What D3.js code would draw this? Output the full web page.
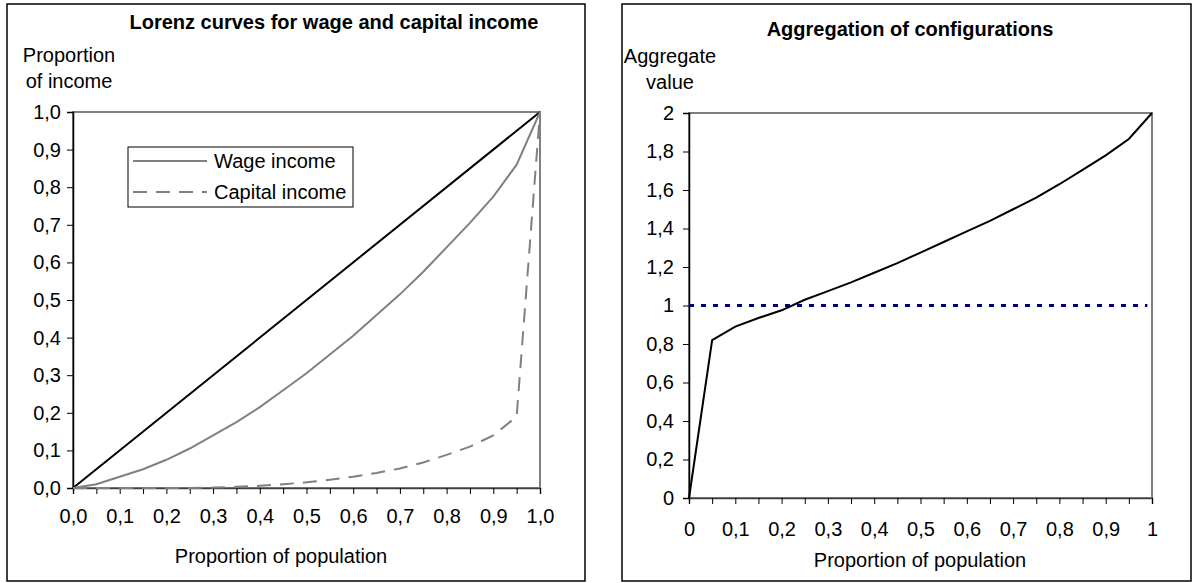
<!DOCTYPE html>
<html>
<head>
<meta charset="utf-8">
<script src="https://cdn.jsdelivr.net/npm/d3@7"></script>
<style>
  body { margin: 0; background: #fff; }
  svg { display: block; font-family: "Liberation Sans", Arial, sans-serif; }
</style>
</head>
<body>
<div id="chart"></div>
<script>
// population share, shared by both panels
const popShare = [0, 0.05, 0.1, 0.15, 0.2, 0.25, 0.3, 0.35, 0.4, 0.45, 0.5,
                  0.55, 0.6, 0.65, 0.7, 0.75, 0.8, 0.85, 0.9, 0.95, 1];

// left panel: Lorenz curves
const equality = [0, 1];
const wageIncome = [0, 0.01, 0.03, 0.05, 0.075, 0.105, 0.14, 0.175, 0.215, 0.26, 0.305,
                    0.355, 0.405, 0.46, 0.515, 0.575, 0.64, 0.705, 0.775, 0.86, 1];
const capitalIncome = [0, 0, 0, 0, 0, 0, 0.001, 0.003, 0.006, 0.01, 0.015,
                       0.022, 0.03, 0.04, 0.052, 0.068, 0.088, 0.11, 0.14, 0.19, 1];

// right panel: aggregation
const aggregate = [0, 0.82, 0.89, 0.935, 0.975, 1.03, 1.075, 1.12, 1.17, 1.22, 1.275,
                   1.33, 1.385, 1.44, 1.5, 1.56, 1.63, 1.705, 1.78, 1.865, 2];
const reference = 1;

const xTicks = d3.range(0, 21).map(i => i / 20);
const leftYTicks = d3.range(0, 11).map(i => i / 10);
const rightYTicks = d3.range(0, 11).map(i => i / 5);

const comma = v => String(+v.toFixed(2)).replace(".", ",");
const comma1 = v => v.toFixed(1).replace(".", ",");
const isMajor = v => Math.abs(v * 10 - Math.round(v * 10)) < 1e-6;

const svg = d3.select("#chart").append("svg")
    .attr("width", 1192)
    .attr("height", 583);

// outer frames
svg.append("rect").attr("x", 7).attr("y", 4).attr("width", 578).attr("height", 577)
    .attr("fill", "none").attr("stroke", "#000").attr("stroke-width", 1.5);
svg.append("rect").attr("x", 622).attr("y", 4).attr("width", 569).attr("height", 577)
    .attr("fill", "none").attr("stroke", "#000").attr("stroke-width", 1.5);

function panel(opt) {
  const x = d3.scaleLinear().domain([0, 1]).range([opt.left, opt.right]);
  const y = d3.scaleLinear().domain(opt.yDomain).range([opt.bottom, opt.top]);
  const g = svg.append("g");

  g.append("rect")
      .attr("x", opt.left).attr("y", opt.top)
      .attr("width", opt.right - opt.left).attr("height", opt.bottom - opt.top)
      .attr("fill", "none").attr("stroke", "#808080").attr("stroke-width", 2);

  g.append("g")
      .attr("transform", `translate(0,${opt.bottom})`)
      .call(d3.axisBottom(x).tickValues(xTicks).tickSize(6).tickPadding(opt.xPad)
          .tickFormat(d => isMajor(d) ? opt.xFormat(d) : ""))
      .call(a => a.select(".domain").attr("stroke", "#404040").attr("stroke-width", 1.5))
      .call(a => a.selectAll("text").attr("font-size", 20).attr("fill", "#000")
          .attr("font-family", "Liberation Sans, Arial, sans-serif"));

  g.append("g")
      .attr("transform", `translate(${opt.left},0)`)
      .call(d3.axisLeft(y).tickValues(opt.yTicks).tickSize(6).tickPadding(opt.yPad)
          .tickFormat(opt.yFormat))
      .call(a => a.select(".domain").attr("stroke", "#000").attr("stroke-width", 1.5))
      .call(a => a.selectAll("text").attr("font-size", 20).attr("fill", "#000")
          .attr("font-family", "Liberation Sans, Arial, sans-serif"));

  g.append("text")
      .attr("x", opt.titleX).attr("y", opt.titleY)
      .attr("text-anchor", "middle").attr("font-weight", "bold").attr("font-size", 20)
      .text(opt.title);

  g.append("text")
      .attr("x", opt.yLabelX).attr("y", opt.yLabelY)
      .attr("text-anchor", "middle").attr("font-size", 20)
      .selectAll("tspan").data(opt.yLabel).join("tspan")
      .attr("x", opt.yLabelX).attr("dy", (d, i) => i ? 26 : 0)
      .text(d => d);

  g.append("text")
      .attr("x", opt.xLabelX).attr("y", opt.xLabelY)
      .attr("text-anchor", "middle").attr("font-size", 20)
      .text("Proportion of population");

  return { x, y, g };
}

// ---- left panel
const L = panel({
  left: 73, right: 540, top: 112, bottom: 488, xPad: 15, yPad: 6,
  yDomain: [0, 1], yTicks: leftYTicks, yFormat: comma1, xFormat: comma1,
  title: "Lorenz curves for wage and capital income", titleX: 334, titleY: 29,
  yLabel: ["Proportion", "of income"], yLabelX: 69, yLabelY: 62,
  xLabelX: 281, xLabelY: 563
});

const lineL = (vals) => d3.line()
    .x((d, i) => L.x(popShare[i]))
    .y(d => L.y(d))(vals);

L.g.append("path")
    .attr("d", d3.line().x(d => L.x(d)).y(d => L.y(d))(equality))
    .attr("fill", "none").attr("stroke", "#000").attr("stroke-width", 2);
L.g.append("path")
    .attr("d", lineL(wageIncome))
    .attr("fill", "none").attr("stroke", "#808080").attr("stroke-width", 2);
L.g.append("path")
    .attr("d", lineL(capitalIncome))
    .attr("fill", "none").attr("stroke", "#808080").attr("stroke-width", 2)
    .attr("stroke-dasharray", "14,9");

// legend
const legend = L.g.append("g");
legend.append("rect").attr("x", 128).attr("y", 147).attr("width", 225).attr("height", 60)
    .attr("fill", "#fff").attr("stroke", "#000").attr("stroke-width", 1);
const legendItems = [
  { name: "Wage income", dash: null },
  { name: "Capital income", dash: "14,9" }
];
legendItems.forEach((it, i) => {
  const yy = 161 + i * 31;
  legend.append("line").attr("x1", 133).attr("x2", 207).attr("y1", yy).attr("y2", yy)
      .attr("stroke", "#808080").attr("stroke-width", 2)
      .attr("stroke-dasharray", it.dash);
  legend.append("text").attr("x", 214).attr("y", yy + 7).attr("font-size", 20)
      .text(it.name);
});

// ---- right panel
const R = panel({
  left: 689, right: 1152, top: 113, bottom: 498, xPad: 18, yPad: 9,
  yDomain: [0, 2], yTicks: rightYTicks, yFormat: comma, xFormat: comma,
  title: "Aggregation of configurations", titleX: 910, titleY: 36,
  yLabel: ["Aggregate", "value"], yLabelX: 670, yLabelY: 63,
  xLabelX: 920, xLabelY: 567
});

R.g.append("line")
    .attr("x1", R.x(0)).attr("x2", R.x(0.99))
    .attr("y1", R.y(reference)).attr("y2", R.y(reference))
    .attr("stroke", "#000080").attr("stroke-width", 3)
    .attr("stroke-dasharray", "5,7");

R.g.append("path")
    .attr("d", d3.line().x((d, i) => R.x(popShare[i])).y(d => R.y(d))(aggregate))
    .attr("fill", "none").attr("stroke", "#000").attr("stroke-width", 2);
</script>
</body>
</html>
